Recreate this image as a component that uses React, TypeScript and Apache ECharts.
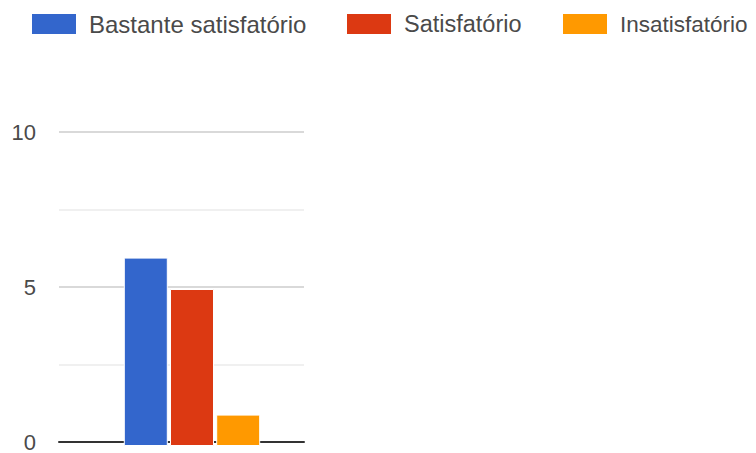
import React, { useEffect, useRef } from "react";
import * as echarts from "echarts";

const categories = [""];
const seriesNames = ["Bastante satisfatório", "Satisfatório", "Insatisfatório"];
const seriesValues = [[6], [5], [1]];
const seriesColors = ["#3366cc", "#dc3912", "#ff9900"];
const yTicks = [0, 5, 10];

const legendLefts = [30, 345, 561];
const legendFontSizes = [24, 23.5, 22.5];

export default function App() {
  const ref = useRef<HTMLDivElement>(null);
  useEffect(() => {
    const chart = echarts.init(ref.current!, null, { renderer: "svg" });
    const font = "Arial, 'Liberation Sans', sans-serif";
    chart.setOption({
      animation: false,
      textStyle: { fontFamily: font },
      legend: seriesNames.map((name, i) => ({
        top: 12,
        left: legendLefts[i],
        padding: 0,
        itemWidth: 46,
        itemHeight: 22,
        icon: "rect",
        textStyle: {
          fontSize: legendFontSizes[i],
          color: "#4a4a4a",
          fontFamily: font,
          padding: [0, 0, 0, 7],
        },
        data: [name],
      })),
      grid: [
        { left: 59, width: 245, top: 132, bottom: 7 },
        { left: 69.5, width: 245, top: 132, bottom: 7 },
      ],
      xAxis: [
        {
          type: "category",
          gridIndex: 0,
          data: categories,
          axisLine: { show: true, lineStyle: { color: "#333", width: 2 } },
          axisTick: { show: false },
          axisLabel: { show: false },
        },
        {
          type: "category",
          gridIndex: 1,
          data: categories,
          show: false,
        },
      ],
      yAxis: [
        {
          type: "value",
          gridIndex: 0,
          min: yTicks[0],
          max: yTicks[yTicks.length - 1],
          interval: 5,
          axisLine: { show: false },
          axisTick: { show: false },
          axisLabel: { fontSize: 22, color: "#4a4a4a", margin: 23, fontFamily: font },
          splitLine: { lineStyle: { color: "#cccccc", width: 1.5 } },
          minorTick: { show: false, splitNumber: 2 },
          minorSplitLine: { show: true, lineStyle: { color: "#ebebeb", width: 1.5 } },
        },
        {
          type: "value",
          gridIndex: 1,
          min: yTicks[0],
          max: yTicks[yTicks.length - 1],
          show: false,
          splitLine: { show: false },
        },
      ],
      series: seriesNames.map((name, i) => ({
        name,
        type: "bar",
        xAxisIndex: 1,
        yAxisIndex: 1,
        data: seriesValues[i],
        barWidth: 44,
        barGap: "5%",
        itemStyle: { color: seriesColors[i], borderColor: "#ffffff", borderWidth: 1 },
      })),
    });
    return () => chart.dispose();
  }, []);
  return (
    <div
      ref={ref}
      style={{ position: "fixed", left: 0, top: 0, width: 756, height: 453, background: "#fff" }}
    />
  );
}
